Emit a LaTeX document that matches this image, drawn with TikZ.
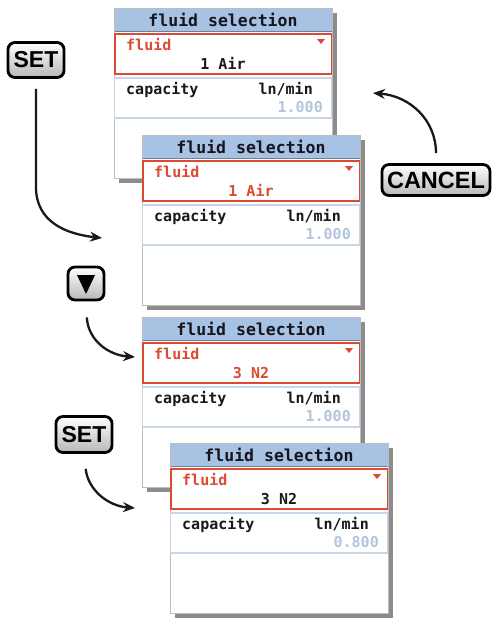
\documentclass[tikz,border=0pt]{standalone}
\usepackage{fontspec}
\newfontfamily\lcdfont{DejaVu Sans Mono}
\newfontfamily\lcdtitlefont{DejaVu Sans Mono}
\newfontfamily\btnfont{Liberation Sans}
\usetikzlibrary{arrows.meta}
\definecolor{lcdred}{HTML}{DC4A32}
\definecolor{titlefill}{HTML}{A8C2E4}
\definecolor{titleline}{HTML}{6F7F96}
\definecolor{capborder}{HTML}{C8D6EA}
\definecolor{dimtext}{HTML}{B3C5DD}
\definecolor{shadowc}{HTML}{8C8C8C}
\definecolor{scrborder}{HTML}{BDBDBD}
\definecolor{titletxt}{HTML}{15151F}
\newcommand\lcdscreen[6]{%
 \begin{scope}[shift={(#2,#3)}]
  \fill[shadowc] (5,5) rectangle (223,175);
  \node[screenbox] (#1) at (109,85) {};
  \fill[titlefill] (0.5,0.5) rectangle (217.5,23);
  \draw[titleline, line width=1pt] (0.5,23) -- (217.5,23);
  \node[titletext, anchor=base] (#1-t) at (109,18) {fluid selection};
  \draw[lcdred, line width=1.5pt] (0.75,25.75) rectangle (217.25,66);
  \node[bodytext, text=lcdred, anchor=base west] (#1-f) at (12,42.5) {fluid};
  \fill[lcdred] (203,31) -- (211,31) -- (207,36) -- cycle;
  \node[bodytext, text=#5, anchor=base] (#1-v) at (109,61) {#4};
  \draw[capborder, line width=1.2pt] (0.6,70) rectangle (217.4,110);
  \node[bodytext, anchor=base west] (#1-c) at (12,86) {capacity};
  \node[bodytext, anchor=base east] (#1-u) at (199,86) {ln/min};
  \node[bodytext, text=dimtext, anchor=base east] (#1-n) at (209,104) {#6};
 \end{scope}}
\begin{document}
\begin{tikzpicture}[x=1pt,y=-1pt,
  screenbox/.style={draw=scrborder, line width=0.7pt, fill=white, minimum width=218pt, minimum height=170pt, inner sep=0pt},
  titletext/.style={font=\lcdtitlefont\bfseries\fontsize{16.5}{17}\selectfont, text=titletxt, inner sep=0pt},
  bodytext/.style={font=\lcdfont\bfseries\fontsize{15}{15}\selectfont, text=black!90, inner sep=0pt},
  button/.style={draw=black, line width=2.8pt, rounded corners=7pt, top color=white, bottom color=black!28, inner sep=0pt, font=\btnfont\bfseries\fontsize{23}{23}\selectfont},
  flow/.style={draw=black!90, line width=2.3pt, -{Stealth[length=12pt,width=10pt]}}]
\useasboundingbox[fill=white] (0,0) rectangle (496,619);
\lcdscreen{s1}{114}{8}{1 Air}{black!90}{1.000}
\lcdscreen{s2}{142}{135}{1 Air}{lcdred}{1.000}
\lcdscreen{s3}{142}{317}{3 N2}{lcdred}{1.000}
\lcdscreen{s4}{170}{443}{3 N2}{black!90}{0.800}
\node[button, minimum width=56pt, minimum height=35pt] (set1) at (36,60) {SET};
\node[button, minimum width=108pt, minimum height=31pt, font=\btnfont\bfseries\fontsize{23.5}{24}\selectfont] (cancel) at (436,180) {CANCEL};
\node[button, minimum width=36pt, minimum height=33pt] (down) at (86,283.5) {};
\fill[black] (77,275) -- (95,275) -- (86,294) -- cycle;
\node[button, minimum width=56pt, minimum height=36pt] (set2) at (84,434.5) {SET};
\coordinate (t1) at (102,238);
\coordinate (t2) at (373,93);
\coordinate (t3) at (135,357);
\coordinate (t4) at (135,508);
\draw[flow, shorten <=10pt] (set1.south) -- (36,187) .. controls (36,222) and (66,234) .. (t1);
\draw[flow, shorten <=10pt] (cancel.north) .. controls (436,120) and (410,96) .. (t2);
\draw[flow, shorten <=16pt] (down.south) .. controls (88,340) and (108,355) .. (t3);
\draw[flow, shorten <=15pt] (set2.south) .. controls (88,490) and (108,506) .. (t4);
\end{tikzpicture}
\end{document}
